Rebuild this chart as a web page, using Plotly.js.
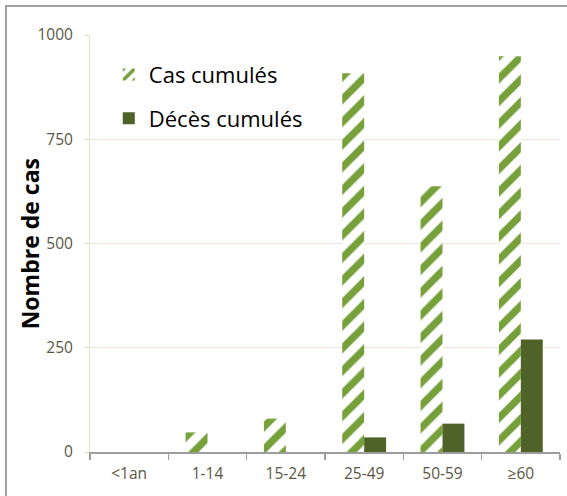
<!DOCTYPE html>
<html>
<head>
<meta charset="utf-8">
<script src="https://cdn.plot.ly/plotly-3.0.1.min.js"></script>
<style>
  html, body { margin: 0; padding: 0; background: #ffffff; }
  #frame { position: absolute; left: 5px; top: 5px; width: 620px; height: 560px;
           border-left: 2px solid #a0a0a0; border-top: 2px solid #a0a0a0; box-sizing: border-box; }
  #chart { position: absolute; left: 0; top: 0; width: 567px; height: 496px; }
</style>
</head>
<body>
<div id="frame"></div>
<div id="chart"></div>
<script>
const categories = ["<1an", "1-14", "15-24", "25-49", "50-59", "≥60"];
const casCumules = [0, 47, 80, 908, 637, 949];
const decesCumules = [0, 0, 0, 35, 68, 270];
const yTicks = [0, 250, 500, 750, 1000];
const seriesNames = ["Cas cumulés", "Décès cumulés"];
const yTitle = "Nombre de cas";

const tickFont = { family: "Open Sans, sans-serif", size: 15.5, color: "#5a5644" };

const traces = [
  {
    type: "bar",
    name: seriesNames[0],
    x: categories,
    y: casCumules,
    legendgroup: "a",
    marker: {
      color: "#ffffff",
      line: { width: 0 },
      pattern: { shape: "/", fgcolor: "#76a03a", bgcolor: "#ffffff", fgopacity: 1, size: 16, solidity: 0.45, fillmode: "replace" }
    },
    hoverinfo: "skip"
  },
  {
    type: "bar",
    name: seriesNames[1],
    x: categories,
    y: decesCumules,
    legendgroup: "b",
    marker: { color: "#4f6228", line: { width: 0 } },
    hoverinfo: "skip"
  }
];

const layout = {
  width: 567,
  height: 496,
  margin: { l: 90, r: 7, t: 35, b: 44 },
  paper_bgcolor: "rgba(0,0,0,0)",
  plot_bgcolor: "rgba(0,0,0,0)",
  barmode: "group",
  bargap: 0.44,
  bargroupgap: 0,
  showlegend: true,
  legend: {
    x: 0.04, y: 0.955, xanchor: "left", yanchor: "top",
    font: { family: "Open Sans, sans-serif", size: 22, color: "#000000" },
    bgcolor: "rgba(0,0,0,0)",
    tracegroupgap: 12,
    itemwidth: 30
  },
  xaxis: {
    type: "category",
    showline: true, linecolor: "#9c9c9c", linewidth: 1.5,
    ticks: "outside", tickson: "boundaries", ticklen: 6, tickcolor: "#9c9c9c", tickwidth: 1.5,
    tickfont: tickFont,
    ticklabelstandoff: 7,
    showgrid: false, zeroline: false
  },
  yaxis: {
    range: [0, 1000],
    tickvals: yTicks,
    ticktext: yTicks.map(String),
    showline: true, linecolor: "#e6e0cf", linewidth: 1,
    ticks: "outside", ticklen: 5, tickcolor: "#e6e0cf",
    showgrid: true, gridcolor: "#ebe6d7", gridwidth: 1.3,
    zeroline: false,
    tickfont: tickFont,
    ticklabelstandoff: 8
  },
  annotations: [
    {
      text: "<b>" + yTitle + "</b>",
      xref: "paper", yref: "paper",
      x: -0.128, y: 0.5, xanchor: "center", yanchor: "middle",
      textangle: -90, showarrow: false,
      font: { family: "Open Sans, sans-serif", size: 23, color: "#000000" }
    }
  ]
};

Plotly.newPlot("chart", traces, layout, { displayModeBar: false, staticPlot: true });
</script>
</body>
</html>
